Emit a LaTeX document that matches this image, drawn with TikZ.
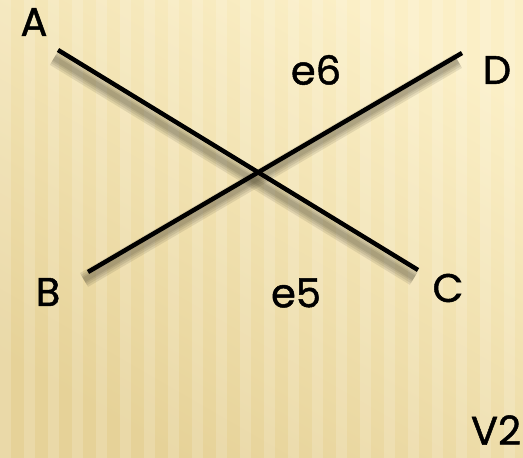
\documentclass[tikz,border=0pt]{standalone}
\usepackage{fontspec}
\setmainfont{Poppins}[FakeBold=1.2,UprightFeatures={FakeBold=1.2}]
\usepackage{tikz}
\usetikzlibrary{positioning,calc}
\definecolor{bglight}{HTML}{FBEFC6}
\definecolor{bgdark}{HTML}{E6D298}
\tikzset{
  lbl/.style={font=\fontsize{40}{42}\selectfont,inner sep=0pt,text=black},
  edgeln/.style={line width=4.5pt,black,line cap=butt},
  edgeshadow/.style={line width=#1,black!70!bgdark,opacity=0.12},
  stripe/.style={white,opacity=0.16},
}

\begin{document}
\begin{tikzpicture}[x=1pt,y=-1pt]
  % background with soft vertical stripes
  \shade[top color=bglight,bottom color=bgdark,shading angle=-30]
    (0,0) rectangle (523,458);
  \foreach \sx in {0,24,...,520}
    \fill[stripe] (\sx,0) rectangle ++(11,458);
  \useasboundingbox (0,0) rectangle (523,458);

  % end points
  \coordinate (pa) at (58,50);
  \coordinate (pc) at (418,270);
  \coordinate (pb) at (88,272);
  \coordinate (pd) at (462,53);

  % labels
  \node[lbl] (A) at (34,22) {A};
  \node[lbl] (D) at (497,70) {D};
  \node[lbl] (B) at (48,292) {B};
  \node[lbl] (C) at (448,288) {C};
  \node[lbl] (e6) at (316,70) {e6};
  \node[lbl] (e5) at (296,293) {e5};
  \node[lbl] (V2) at (496,430) {V2};

  % blurred shadows, then the crossing edges
  \foreach \w in {16pt,12pt,8pt,5pt} {
    \draw[edgeshadow=\w] ($(pa)+(-4,8)$) -- ($(pc)+(-4,8)$);
    \draw[edgeshadow=\w] ($(pb)+(-4,8)$) -- ($(pd)+(-4,8)$);
  }
  \draw[edgeln] (pa) -- (pc);
  \draw[edgeln] (pb) -- (pd);
\end{tikzpicture}
\end{document}
